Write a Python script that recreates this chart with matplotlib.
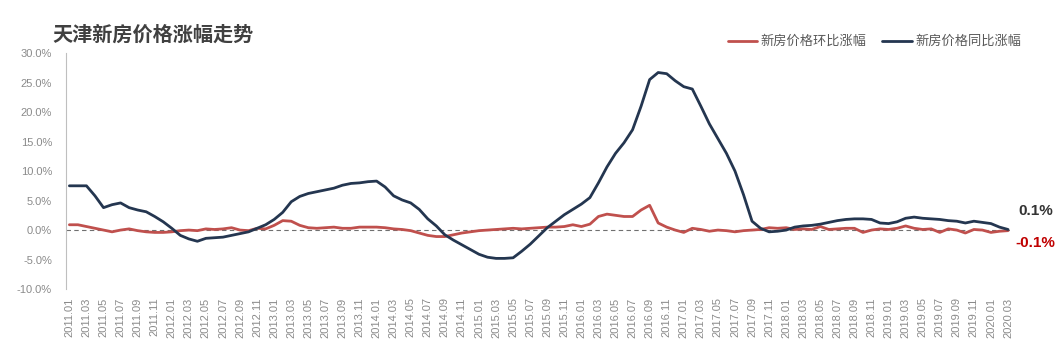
import matplotlib
matplotlib.use('Agg')
import matplotlib.pyplot as plt
from matplotlib.ticker import FuncFormatter

plt.rcParams['font.family'] = ['Liberation Sans', 'Noto Sans CJK SC', 'DejaVu Sans']

# 月度数据 2011.01 - 2020.03
months = [f'{y}.{m:02d}' for y in range(2011, 2021) for m in range(1, 13)][:111]

# 新房价格同比涨幅 (%)
yoy = [7.5, 7.5, 7.5, 5.8, 3.8, 4.3, 4.6, 3.8, 3.4, 3.1, 2.3, 1.4,
       0.3, -0.9, -1.5, -1.9, -1.4, -1.3, -1.2, -0.9, -0.6, -0.3, 0.3, 0.9,
       1.8, 3.0, 4.8, 5.7, 6.2, 6.5, 6.8, 7.1, 7.6, 7.9, 8.0, 8.2,
       8.3, 7.3, 5.8, 5.1, 4.6, 3.5, 1.9, 0.7, -0.8, -1.7, -2.5, -3.3,
       -4.1, -4.6, -4.8, -4.8, -4.7, -3.6, -2.4, -1.0, 0.4, 1.5, 2.6, 3.5,
       4.4, 5.5, 8.0, 10.7, 13.0, 14.8, 17.0, 21.0, 25.5, 26.7, 26.5, 25.3,
       24.3, 23.9, 21.0, 18.0, 15.5, 13.0, 10.0, 6.0, 1.5, 0.3, -0.3, -0.2,
       0.0, 0.5, 0.7, 0.8, 1.0, 1.3, 1.6, 1.8, 1.9, 1.9, 1.8, 1.2,
       1.1, 1.4, 2.0, 2.2, 2.0, 1.9, 1.8, 1.6, 1.5, 1.2, 1.5, 1.3,
       1.1, 0.5, 0.1]

# 新房价格环比涨幅 (%)
mom = [0.9, 0.9, 0.6, 0.3, 0.0, -0.3, 0.0, 0.2, -0.1, -0.3, -0.4, -0.4,
       -0.3, -0.1, 0.0, -0.1, 0.2, 0.1, 0.2, 0.4, 0.0, -0.1, 0.3, 0.2,
       0.8, 1.6, 1.5, 0.8, 0.4, 0.3, 0.4, 0.5, 0.3, 0.3, 0.5, 0.5,
       0.5, 0.4, 0.2, 0.1, -0.1, -0.5, -0.9, -1.1, -1.1, -0.8, -0.5, -0.3,
       -0.1, 0.0, 0.1, 0.2, 0.3, 0.2, 0.3, 0.4, 0.5, 0.5, 0.6, 0.9,
       0.6, 1.0, 2.3, 2.7, 2.5, 2.3, 2.3, 3.4, 4.2, 1.2, 0.5, 0.0,
       -0.4, 0.3, 0.1, -0.2, 0.0, -0.1, -0.3, -0.1, 0.0, 0.1, 0.4, 0.3,
       0.4, 0.1, 0.2, 0.1, 0.6, 0.1, 0.2, 0.3, 0.3, -0.4, 0.0, 0.2,
       0.1, 0.3, 0.7, 0.3, 0.1, 0.2, -0.4, 0.2, 0.0, -0.5, 0.1, 0.0,
       -0.4, -0.2, -0.1]

x = list(range(len(months)))
red = '#c0504d'
navy = '#243650'
gray = '#8a8a8a'

fig = plt.figure(figsize=(10.64, 3.56), dpi=100)
ax = fig.add_axes([0.062, 0.188, 0.887, 0.663])

ax.axhline(0, color='#707070', lw=0.8, ls=(0, (4, 3)), zorder=1)
ax.plot(x, mom, color=red, lw=2.0, label='新房价格环比涨幅', zorder=2,
        solid_joinstyle='round', solid_capstyle='round')
ax.plot(x, yoy, color=navy, lw=2.0, label='新房价格同比涨幅', zorder=3,
        solid_joinstyle='round', solid_capstyle='round')

ax.set_xlim(-0.4, 110.2)
ax.set_ylim(-10, 30)
ax.set_yticks(range(-10, 31, 5))
ax.yaxis.set_major_formatter(FuncFormatter(lambda v, p: f'{v:.1f}%'))
ax.set_xticks(x[::2])
ax.set_xticklabels(months[::2], rotation=90)
ax.tick_params(axis='both', length=0, colors=gray, labelsize=8)
ax.tick_params(axis='y', pad=10)
ax.tick_params(axis='x', pad=6)

for s in ['top', 'right', 'bottom']:
    ax.spines[s].set_visible(False)
ax.spines['left'].set_color('#bfbfbf')

ax.text(111.2, yoy[-1] + 3.2, f'{yoy[-1]:.1f}%', color='#333333', fontsize=11,
        fontweight='bold', ha='left', va='center', clip_on=False)
ax.text(110.9, mom[-1] - 2.1, f'{mom[-1]:.1f}%', color='#c00000', fontsize=11,
        fontweight='bold', ha='left', va='center', clip_on=False)

fig.text(0.049, 0.902, '天津新房价格涨幅走势', fontsize=14.5, fontweight='bold',
         color='#404040', ha='left', va='center')

leg = fig.legend(loc='center right', bbox_to_anchor=(0.965, 0.882), ncol=2,
                 frameon=False, fontsize=9.5, handlelength=2.2, handletextpad=0.3,
                 columnspacing=1.2, borderaxespad=0)
for t in leg.get_texts():
    t.set_color('#595959')

fig.savefig('out.png', dpi=100)
